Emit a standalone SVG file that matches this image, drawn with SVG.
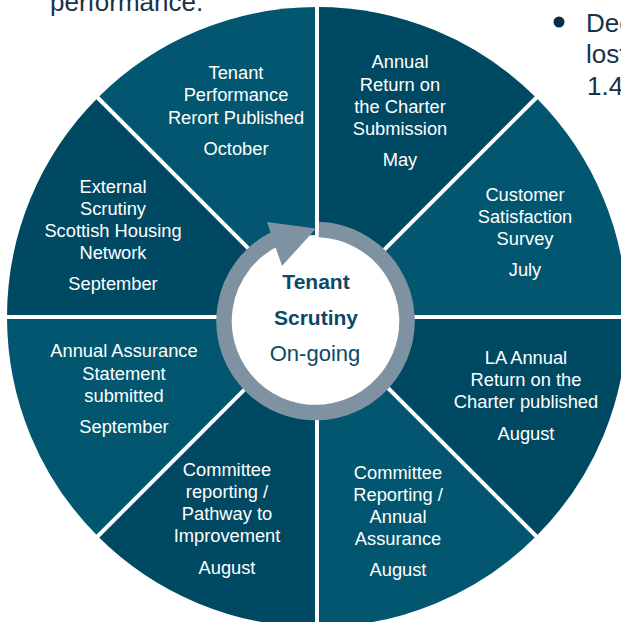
<svg xmlns="http://www.w3.org/2000/svg" width="621" height="622" viewBox="0 0 621 622">
  <style>
    .seg-light { fill: #02566f; }
    .seg-dark { fill: #004963; }
    .lbl { font-family: "Liberation Sans", Arial, sans-serif; font-size: 18.3px; fill: #ffffff; text-anchor: middle; }
    .divider { stroke: #ffffff; stroke-width: 4; }
    .hub-title { font-family: "Liberation Sans", Arial, sans-serif; font-size: 21px; font-weight: bold; fill: #0b4a66; text-anchor: middle; }
    .hub-sub { font-family: "Liberation Sans", Arial, sans-serif; font-size: 22px; fill: #0b4a66; text-anchor: middle; }
    .body { font-family: "Liberation Sans", Arial, sans-serif; font-size: 26px; fill: #16324b; }
  </style>

  <rect width="621" height="622" fill="#ffffff"/>

  <!-- surrounding page text -->
  <text class="body" x="50" y="11">performance.</text>
  <circle cx="559" cy="22" r="5.5" fill="#0b2e47"/>
  <text class="body" x="586" y="32">Dec</text>
  <text class="body" x="586" y="63">lost</text>
  <text class="body" x="587" y="95">1.4</text>

  <!-- wheel segments: centre (317,317), radius 310 -->
  <g id="seg-tenant-report">
    <path class="seg-light" d="M317,317 L97.8,97.8 A310,310 0 0 1 317,7 Z"/>
    <text class="lbl" x="236" y="79">Tenant</text>
    <text class="lbl" x="236" y="101">Performance</text>
    <text class="lbl" x="236" y="124">Rerort Published</text>
    <text class="lbl" x="236" y="155">October</text>
  </g>
  <g id="seg-annual-return">
    <path class="seg-dark" d="M317,317 L317,7 A310,310 0 0 1 536.2,97.8 Z"/>
    <text class="lbl" x="400" y="68">Annual</text>
    <text class="lbl" x="400" y="91">Return on</text>
    <text class="lbl" x="400" y="113">the Charter</text>
    <text class="lbl" x="400" y="135">Submission</text>
    <text class="lbl" x="400" y="166">May</text>
  </g>
  <g id="seg-customer-survey">
    <path class="seg-light" d="M317,317 L536.2,97.8 A310,310 0 0 1 627,317 Z"/>
    <text class="lbl" x="525" y="201">Customer</text>
    <text class="lbl" x="525" y="223">Satisfaction</text>
    <text class="lbl" x="525" y="245">Survey</text>
    <text class="lbl" x="525" y="276">July</text>
  </g>
  <g id="seg-la-annual-return">
    <path class="seg-dark" d="M317,317 L627,317 A310,310 0 0 1 536.2,536.2 Z"/>
    <text class="lbl" x="526" y="364">LA Annual</text>
    <text class="lbl" x="526" y="386">Return on the</text>
    <text class="lbl" x="526" y="408">Charter published</text>
    <text class="lbl" x="526" y="440">August</text>
  </g>
  <g id="seg-committee-assurance">
    <path class="seg-light" d="M317,317 L536.2,536.2 A310,310 0 0 1 317,627 Z"/>
    <text class="lbl" x="398" y="479">Committee</text>
    <text class="lbl" x="398" y="501">Reporting /</text>
    <text class="lbl" x="398" y="523">Annual</text>
    <text class="lbl" x="398" y="545">Assurance</text>
    <text class="lbl" x="398" y="576">August</text>
  </g>
  <g id="seg-committee-pathway">
    <path class="seg-dark" d="M317,317 L317,627 A310,310 0 0 1 97.8,536.2 Z"/>
    <text class="lbl" x="227" y="476">Committee</text>
    <text class="lbl" x="227" y="498">reporting /</text>
    <text class="lbl" x="227" y="520">Pathway to</text>
    <text class="lbl" x="227" y="542">Improvement</text>
    <text class="lbl" x="227" y="574">August</text>
  </g>
  <g id="seg-assurance-statement">
    <path class="seg-light" d="M317,317 L97.8,536.2 A310,310 0 0 1 7,317 Z"/>
    <text class="lbl" x="124" y="357">Annual Assurance</text>
    <text class="lbl" x="124" y="380">Statement</text>
    <text class="lbl" x="124" y="402">submitted</text>
    <text class="lbl" x="124" y="433">September</text>
  </g>
  <g id="seg-external-scrutiny">
    <path class="seg-dark" d="M317,317 L7,317 A310,310 0 0 1 97.8,97.8 Z"/>
    <text class="lbl" x="113" y="193">External</text>
    <text class="lbl" x="113" y="215">Scrutiny</text>
    <text class="lbl" x="113" y="237">Scottish Housing</text>
    <text class="lbl" x="113" y="259">Network</text>
    <text class="lbl" x="113" y="290">September</text>
  </g>

  <!-- white spokes between segments -->
  <g id="spokes">
    <line class="divider" x1="317" y1="317" x2="317" y2="5"/>
    <line class="divider" x1="317" y1="317" x2="317" y2="629"/>
    <line class="divider" x1="317" y1="317" x2="5" y2="317"/>
    <line class="divider" x1="317" y1="317" x2="629" y2="317"/>
    <line class="divider" x1="317" y1="317" x2="538" y2="96"/>
    <line class="divider" x1="317" y1="317" x2="96" y2="538"/>
    <line class="divider" x1="317" y1="317" x2="96" y2="96"/>
    <line class="divider" x1="317" y1="317" x2="538" y2="538"/>
  </g>

  <!-- hub with circular arrow -->
  <g id="hub">
    <circle cx="315.5" cy="321" r="86" fill="#ffffff"/>
    <path d="M319,229.6 A91.5,91.5 0 1 1 275.4,238.8" fill="none" stroke="#7f92a2" stroke-width="15.5"/>
    <path d="M267,222 L316,228.5 L282,266 Z" fill="#7f92a2"/>
    <text class="hub-title" x="316" y="289">Tenant</text>
    <text class="hub-title" x="316" y="325">Scrutiny</text>
    <text class="hub-sub" x="315" y="361">On-going</text>
  </g>
</svg>
